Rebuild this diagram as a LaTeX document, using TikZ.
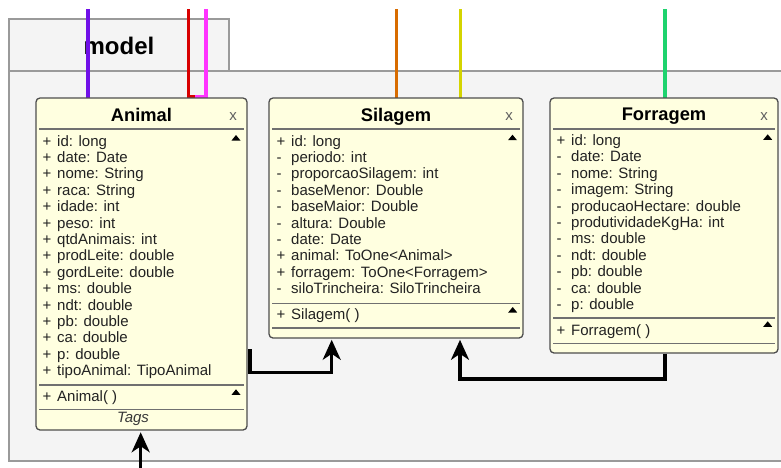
\documentclass[tikz,border=0pt]{standalone}
\usepackage{fontspec}
\setmainfont{Liberation Sans}
\usetikzlibrary{arrows.meta}

\definecolor{pkgfill}{HTML}{F4F4F4}
\definecolor{pkgline}{HTML}{9A9A9A}
\definecolor{boxfill}{HTML}{FFFFE0}
\definecolor{boxline}{HTML}{4E4E4E}
\definecolor{sepline}{HTML}{707070}
\definecolor{txt}{HTML}{222222}
\definecolor{closex}{HTML}{606060}
\definecolor{linkP}{HTML}{7010E8}
\definecolor{linkR}{HTML}{D80000}
\definecolor{linkM}{HTML}{FF33FF}
\definecolor{linkO}{HTML}{D86C00}
\definecolor{linkY}{HTML}{D4D400}
\definecolor{linkG}{HTML}{1ED36E}

% small filled triangle used as the collapse marker of a section
\newcommand\umltri[2]{\fill[black] ({#1-4.5},{#2+2.5}) -- ({#1+4.5},{#2+2.5}) -- (#1,{#2-3}) -- cycle;}

\begin{document}
\begin{tikzpicture}[x=1pt,y=-1pt,
  umlbox/.style={draw=boxline, fill=boxfill, line width=1.3pt, rounded corners=4pt, inner sep=0pt},
  sepln/.style={draw=sepline, line width=1.6pt},
  attr/.style={anchor=base west, inner sep=0pt, font=\fontsize{15}{16}\selectfont, text=txt},
  title/.style={anchor=base, inner sep=0pt, font=\bfseries\fontsize{18.3}{20}\selectfont, text=black},
  closebtn/.style={anchor=base, inner sep=0pt, font=\fontsize{15}{16}\selectfont, text=closex},
  colorlink/.style={line width=3.5pt},
  conn/.style={line width=3.2pt, black, -{Stealth[length=20pt,width=18pt,inset=6pt]}},
]
\useasboundingbox (0,0) rectangle (781,467);
\fill[white] (0,0) rectangle (781,467);

% package frame: tab and body
\draw[pkgline, fill=pkgfill, line width=1.2pt] (9,19) rectangle (229,71);
\draw[pkgline, fill=pkgfill, line width=1.2pt] (9,71) rectangle (800,461);
\node[anchor=base, inner sep=0pt, font=\bfseries\fontsize{24}{26}\selectfont] (pkgname) at (119,54) {model};

% incoming links from the top
\coordinate (tP) at (88,9);
\coordinate (tR) at (188.3,9);
\coordinate (tM) at (206,9);
\coordinate (tO) at (396.7,9);
\coordinate (tY) at (460.3,9);
\coordinate (tG) at (665,9);
\draw[colorlink, linkP] (tP) -- (88,98);
\draw[colorlink, linkR] (tR) -- (188.3,96.5) -- (195,96.5);
\draw[colorlink, linkM] (tM) -- (206,96.5) -- (195,96.5);
\draw[colorlink, linkO] (tO) -- (396.7,98);
\draw[colorlink, linkY] (tY) -- (460.3,98);
\draw[colorlink, linkG] (tG) -- (665,98);

% class boxes
\node[umlbox, minimum width=211pt, minimum height=332pt] (Animal) at (141.5,264) {};
\node[umlbox, minimum width=254pt, minimum height=240pt] (Silagem) at (396,218) {};
\node[umlbox, minimum width=228pt, minimum height=255pt] (Forragem) at (664,225.5) {};

% ---- Animal
\node[title] (AnimalT) at (141.5,121) {Animal};
\node[closebtn] (AnimalX) at (233,120) {x};
\draw[sepln] (39,129) -- (244,129);
\draw[sepln] (39,385) -- (244,385);
\draw[sepln] (39,409.5) -- (244,409.5);
\umltri{236}{138}
\umltri{236}{392.3}
\foreach [count=\i from 0] \p/\t in {+/id: long, +/date: Date, +/nome: String, +/raca: String,
    +/idade: int, +/peso: int, +/qtdAnimais: int, +/prodLeite: double, +/gordLeite: double,
    +/ms: double, +/ndt: double, +/pb: double, +/ca: double, +/p: double,
    +/tipoAnimal: TipoAnimal}
  \node[attr, name=AnimalA\i] at (42.5,146+16.4*\i) {\makebox[14.5pt][l]{\p}\t};
\node[attr] (AnimalM) at (42.5,401.7) {\makebox[14.5pt][l]{+}Animal( )};
\node[anchor=base, inner sep=0pt, font=\itshape\fontsize{15}{16}\selectfont, text=txt!90] (AnimalTags) at (133,422) {Tags};

% ---- Silagem
\node[title] (SilagemT) at (396,121) {Silagem};
\node[closebtn] (SilagemX) at (509,120) {x};
\draw[sepln] (272,129) -- (520,129);
\draw[sepln] (272,303.3) -- (520,303.3);
\draw[sepln] (272,327.7) -- (520,327.7);
\umltri{512.5}{137.7}
\umltri{512.7}{310}
\foreach [count=\i from 0] \p/\t in {+/id: long, -/periodo: int, -/proporcaoSilagem: int,
    -/baseMenor: Double, -/baseMaior: Double, -/altura: Double, -/date: Date,
    +/animal: ToOne<Animal>, +/forragem: ToOne<Forragem>, -/siloTrincheira: SiloTrincheira}
  \node[attr, name=SilagemA\i] at (276.5,146+16.4*\i) {\makebox[14.5pt][l]{\p}\t};
\node[attr] (SilagemM) at (276.5,319) {\makebox[14.5pt][l]{+}Silagem( )};

% ---- Forragem
\node[title] (ForragemT) at (664,120.5) {Forragem};
\node[closebtn] (ForragemX) at (764,120) {x};
\draw[sepln] (553,129) -- (775,129);
\draw[sepln] (553,317.7) -- (775,317.7);
\draw[sepln] (553,343.3) -- (775,343.3);
\umltri{767.7}{137.3}
\umltri{767.7}{324.3}
\foreach [count=\i from 0] \p/\t in {+/id: long, -/date: Date, -/nome: String, -/imagem: String,
    -/producaoHectare: double, -/produtividadeKgHa: int, -/ms: double, -/ndt: double,
    -/pb: double, -/ca: double, -/p: double}
  \node[attr, name=ForragemA\i] at (556.5,145.5+16.4*\i) {\makebox[14.5pt][l]{\p}\t};
\node[attr] (ForragemM) at (556.5,335) {\makebox[14.5pt][l]{+}Forragem( )};

% ---- associations
\coordinate (aOut) at (250,349);
\coordinate (sIn1) at (331.7,339.8);
\coordinate (sIn2) at (460,339.8);
\coordinate (bIn) at (140.7,470);
\draw[conn] (aOut) -- (aOut |- 0,372.5) -| (sIn1);
\draw[conn] (Forragem.south -| 665,0) -- (665,379) -| (sIn2);
\draw[conn] (bIn) -- ([yshift=-1.6pt]bIn |- Animal.south);
\end{tikzpicture}
\end{document}
